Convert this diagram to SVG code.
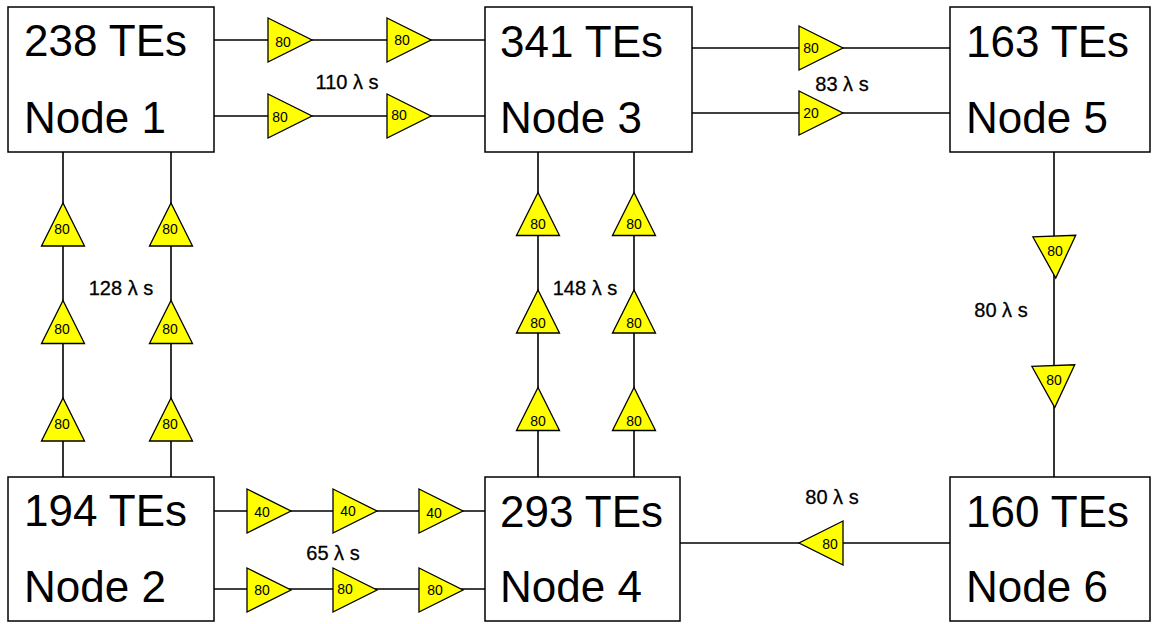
<svg xmlns="http://www.w3.org/2000/svg" width="1157" height="624" viewBox="0 0 1157 624">
<style>
.box{fill:#fff;stroke:#000;stroke-width:1.5}
.big{font-family:"Liberation Sans",Arial,sans-serif;font-size:44px;fill:#000}
.lbl{font-family:"Liberation Sans",Arial,sans-serif;font-size:20px;fill:#000;text-anchor:middle;dominant-baseline:central;stroke:#000;stroke-width:0.3}
.amp{fill:#ffff00;stroke:#000;stroke-width:1.3;stroke-linejoin:miter}
.amt{font-family:"Liberation Sans",Arial,sans-serif;font-size:14px;fill:#000;text-anchor:middle;dominant-baseline:central}
.ln{stroke:#000;stroke-width:1.6;fill:none}
</style>
<defs>
<polygon id="ampR" class="amp" points="0,-22 44,0 0,22"/>
<polygon id="ampL" class="amp" points="0,-22 -44,0 0,22"/>
<polygon id="ampU" class="amp" points="-21.5,21.5 0,-21.5 21.5,21.5"/>
<polygon id="ampD" class="amp" points="-21.5,-21 0,21 21.5,-21"/>
</defs>
<g id="connectors">
<line class="ln" x1="214" y1="40" x2="485" y2="40"/>
<line class="ln" x1="214" y1="116" x2="485" y2="116"/>
<line class="ln" x1="692" y1="48" x2="950" y2="48"/>
<line class="ln" x1="692" y1="113" x2="950" y2="113"/>
<line class="ln" x1="63" y1="152" x2="63" y2="477"/>
<line class="ln" x1="171" y1="152" x2="171" y2="477"/>
<line class="ln" x1="538" y1="152" x2="538" y2="477"/>
<line class="ln" x1="634" y1="152" x2="634" y2="477"/>
<line class="ln" x1="1054" y1="152" x2="1054" y2="477"/>
<line class="ln" x1="214" y1="511" x2="485" y2="511"/>
<line class="ln" x1="214" y1="589" x2="485" y2="589"/>
<line class="ln" x1="680" y1="543" x2="950" y2="543"/>

<!-- Node1 -> Node3 -->
<use href="#ampR" x="268" y="40"/><text class="amt" x="283" y="42">80</text>
<use href="#ampR" x="387" y="40"/><text class="amt" x="402" y="40">80</text>
<use href="#ampR" x="268" y="116"/><text class="amt" x="280" y="117">80</text>
<use href="#ampR" x="387" y="116"/><text class="amt" x="399" y="115">80</text>
<text class="lbl" x="347" y="82">110 λ s</text>

<!-- Node3 -> Node5 -->
<use href="#ampR" x="799" y="48"/><text class="amt" x="811" y="48">80</text>
<use href="#ampR" x="799" y="113"/><text class="amt" x="811" y="113">20</text>
<text class="lbl" x="842" y="84">83 λ s</text>

<!-- Node1 - Node2 verticals -->
<use href="#ampU" x="63" y="224.5"/><text class="amt" x="62" y="229">80</text>
<use href="#ampU" x="63" y="322"/><text class="amt" x="62" y="329">80</text>
<use href="#ampU" x="63" y="419.5"/><text class="amt" x="62" y="424">80</text>
<use href="#ampU" x="171" y="224.5"/><text class="amt" x="170" y="229">80</text>
<use href="#ampU" x="171" y="322"/><text class="amt" x="170" y="329">80</text>
<use href="#ampU" x="171" y="419.5"/><text class="amt" x="170" y="424">80</text>
<text class="lbl" x="121" y="288">128 λ s</text>

<!-- Node3 - Node4 verticals -->
<use href="#ampU" x="538" y="214"/><text class="amt" x="538" y="224">80</text>
<use href="#ampU" x="538" y="311.5"/><text class="amt" x="538" y="323">80</text>
<use href="#ampU" x="538" y="409"/><text class="amt" x="538" y="421">80</text>
<use href="#ampU" x="634" y="214"/><text class="amt" x="634" y="224">80</text>
<use href="#ampU" x="634" y="311.5"/><text class="amt" x="634" y="323">80</text>
<use href="#ampU" x="634" y="409"/><text class="amt" x="634" y="421">80</text>
<text class="lbl" x="585" y="288">148 λ s</text>

<!-- Node5 -> Node6 -->
<use href="#ampD" x="1055" y="257" transform="rotate(-2 1055 257)"/><text class="amt" x="1055" y="251">80</text>
<use href="#ampD" x="1054" y="386.5" transform="rotate(-2 1054 386.5)"/><text class="amt" x="1054" y="380">80</text>
<text class="lbl" x="1001" y="310">80 λ s</text>

<!-- Node2 -> Node4 -->
<use href="#ampR" x="247" y="511"/><text class="amt" x="262" y="512">40</text>
<use href="#ampR" x="333" y="511"/><text class="amt" x="348" y="511">40</text>
<use href="#ampR" x="419" y="511"/><text class="amt" x="434" y="513">40</text>
<use href="#ampR" x="247" y="590"/><text class="amt" x="262" y="590">80</text>
<use href="#ampR" x="333" y="590"/><text class="amt" x="345" y="589">80</text>
<use href="#ampR" x="419" y="590"/><text class="amt" x="435" y="590">80</text>
<text class="lbl" x="333" y="553">65 λ s</text>

<!-- Node6 -> Node4 -->
<use href="#ampL" x="843" y="543"/><text class="amt" x="830" y="544">80</text>
<text class="lbl" x="832" y="497">80 λ s</text>
</g>

<g id="node1"><rect class="box" x="8" y="7" width="206" height="145"/><text class="big" x="24" y="56">238 TEs</text><text class="big" x="24" y="133">Node 1</text></g>
<g id="node3"><rect class="box" x="485" y="7" width="207" height="145"/><text class="big" x="500" y="57">341 TEs</text><text class="big" x="500" y="133">Node 3</text></g>
<g id="node5"><rect class="box" x="950" y="7" width="200" height="145"/><text class="big" x="966" y="57">163 TEs</text><text class="big" x="966" y="133">Node 5</text></g>
<g id="node2"><rect class="box" x="8" y="477" width="206" height="144"/><text class="big" x="24" y="526">194 TEs</text><text class="big" x="24" y="602">Node 2</text></g>
<g id="node4"><rect class="box" x="485" y="477" width="195" height="144"/><text class="big" x="500" y="527">293 TEs</text><text class="big" x="500" y="602">Node 4</text></g>
<g id="node6"><rect class="box" x="950" y="477" width="200" height="144"/><text class="big" x="966" y="527">160 TEs</text><text class="big" x="966" y="602">Node 6</text></g>
</svg>
